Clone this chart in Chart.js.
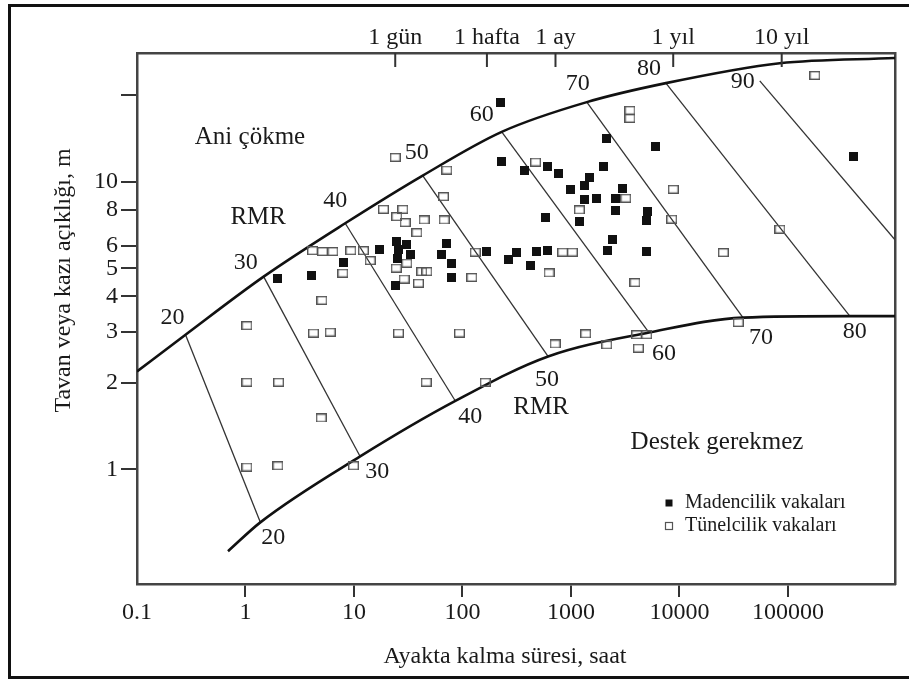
<!DOCTYPE html>
<html>
<head>
<meta charset="utf-8">
<script src="https://cdn.jsdelivr.net/npm/chart.js@4/dist/chart.umd.min.js"></script>
<style>
  html, body { margin: 0; padding: 0; background: #fff; overflow: hidden; }
  #wrap { position: relative; width: 909px; height: 681px; }
  #frame { position: absolute; left: 8px; top: 4px; width: 1000px; height: 675px; border: 3px solid #111; box-sizing: border-box; }
  #chart { position: absolute; left: 0; top: 0; }
</style>
</head>
<body>
<div id="wrap">
  <div id="frame"></div>
  <canvas id="chart" width="909" height="681"></canvas>
</div>
<script>
// axis ticks
const X_TICKS = [0.1, 1, 10, 100, 1000, 10000, 100000];
const X_TICK_LABELS = ['0.1', '1', '10', '100', '1000', '10000', '100000'];
const TOP_TICKS = [24, 168, 720, 8760, 87600];
const TOP_TICK_LABELS = ['1 gün', '1 hafta', '1 ay', '1 yıl', '10 yıl'];
const Y_TICKS = [1, 2, 3, 4, 5, 6, 8, 10, 20];
const Y_TICK_LABELS = ['1', '2', '3', '4', '5', '6', '8', '10', ''];

// boundary curves
const UPPER_X = [0.1, 0.28, 1.47, 8.3, 43, 230, 1400, 7500, 84000, 970000];
const UPPER_Y = [2.19, 2.94, 4.68, 7.17, 10.5, 14.9, 18.9, 22.0, 25.8, 26.9];
const LOWER_X = [0.69, 1.37, 11.4, 86, 615, 5240, 38500, 372000, 970000];
const LOWER_Y = [0.52, 0.655, 1.11, 1.73, 2.47, 2.99, 3.37, 3.41, 3.41];

// RMR lines
const RMR_VALUES = ['20', '30', '40', '50', '60', '70', '80', '90'];
const RMR_TOP_X = [0.28, 1.47, 8.3, 43, 230, 1400, 7500, 55000];
const RMR_TOP_Y = [2.94, 4.68, 7.17, 10.5, 14.9, 18.9, 22.0, 22.4];
const RMR_BOTTOM_X = [1.37, 11.4, 86, 615, 5240, 38500, 372000, 970000];
const RMR_BOTTOM_Y = [0.655, 1.11, 1.73, 2.47, 2.99, 3.37, 3.41, 6.28];
const RMR_BOTTOM_LABELS = ['20', '30', '40', '50', '60', '70', '80', ''];

// case histories
const MINING_LABEL = 'Madencilik vakaları';
const MINING_X = [225, 230, 370, 603, 766, 586, 17.1, 24.8, 30.3, 25.7, 33, 25.2, 70.6, 63.5, 79.8,
  79.8, 8.0, 1.97, 4.09, 24, 167, 265, 317, 420, 484, 606, 1990, 2140, 5960, 1480,
  1330, 996, 1330, 1730, 2975, 2600, 2600, 1210, 5060, 4990, 2430, 2160, 4920, 405000];
const MINING_Y = [18.9, 11.8, 10.95, 11.27, 10.7, 7.52, 5.8, 6.19, 6.03, 5.83, 5.57, 5.42, 6.08, 5.57, 5.18,
  4.65, 5.25, 4.62, 4.71, 4.37, 5.72, 5.35, 5.66, 5.13, 5.74, 5.75, 11.27, 14.1, 13.2, 10.36,
  9.67, 9.41, 8.64, 8.76, 9.49, 8.76, 7.93, 7.27, 7.87, 7.32, 6.28, 5.75, 5.72, 12.2];

const TUNNEL_LABEL = 'Tünelcilik vakaları';
const TUNNEL_X = [24, 71.8, 472, 66.8, 18.7, 28.2, 24.8, 29.6, 44.3, 67.8, 38, 4.15, 5.13, 6.39, 9.36,
  12.2, 14.1, 131, 24.5, 30.7, 42.2, 47, 29, 39.3, 122, 7.9, 5.06, 1.03, 4.24, 6.04,
  25.7, 93.8, 1.03, 2.02, 46.3, 162, 628, 4.99, 1.03, 1.99, 9.9, 3500, 3500, 8770, 3200,
  1195, 8485, 84300, 25400, 177000, 840, 1030, 3890, 714, 1368, 2138, 4036, 4990, 4178, 34800];
const TUNNEL_Y = [12.15, 10.98, 11.7, 8.87, 8.02, 8.02, 7.56, 7.21, 7.36, 7.36, 6.65, 5.76, 5.72, 5.72, 5.76,
  5.76, 5.32, 5.69, 5.01, 5.21, 4.87, 4.87, 4.59, 4.44, 4.65, 4.81, 3.87, 3.16, 2.98, 3.0,
  2.98, 2.98, 2.01, 2.01, 2.01, 2.01, 4.82, 1.51, 1.02, 1.03, 1.03, 17.7, 16.6, 9.41, 8.76,
  7.98, 7.41, 6.84, 5.67, 23.4, 5.69, 5.69, 4.46, 2.73, 2.96, 2.71, 2.94, 2.94, 2.64, 3.24];

// region notes, placed in data space
const NOTES = [
  { text: 'Ani çökme', x: 1.1, y: 14.3 },
  { text: 'RMR', x: 1.31, y: 7.54 },
  { text: 'RMR', x: 530, y: 1.64 },
  { text: 'Destek gerekmez', x: 22200, y: 1.24 }
];

const FONT = '"Liberation Serif", "Times New Roman", serif';
const X_MIN = 0.1, X_MAX = 970000, Y_MIN = 0.4, Y_MAX = 28;

// pixel nudges for the RMR numbers at the line ends
const TOP_SHIFT = [[-13, -17], [-18, -14], [-10, -23], [-6, -23], [-20, -17], [-9, -18], [-17, -14], [-17, 1]];
const BOTTOM_SHIFT = [[13, 15], [17, 15], [15, 16], [-1, 23], [15, 21], [18, 20], [5, 16], [0, 0]];

function zip(xs, ys) {
  return xs.map((x, i) => ({ x: x, y: ys[i] }));
}

function squareMarker(filled) {
  const c = document.createElement('canvas');
  const g = c.getContext('2d');
  if (filled) {
    c.width = 9; c.height = 9;
    g.fillStyle = '#111';
    g.fillRect(0, 0, 9, 9);
  } else {
    c.width = 11; c.height = 9;
    g.strokeStyle = '#555';
    g.lineWidth = 1.4;
    g.strokeRect(0.7, 0.7, 9.6, 7.6);
  }
  return c;
}

const filledMarker = squareMarker(true);
const openMarker = squareMarker(false);

const rmrLineSets = RMR_VALUES.map((v, i) => ({
  type: 'line',
  label: 'RMR ' + v,
  data: [{ x: RMR_TOP_X[i], y: RMR_TOP_Y[i] }, { x: RMR_BOTTOM_X[i], y: RMR_BOTTOM_Y[i] }],
  borderColor: '#333',
  borderWidth: 1.3,
  pointRadius: 0,
  fill: false
}));

const extrasPlugin = {
  id: 'extras',
  afterDraw(chart) {
    const { ctx, chartArea, scales } = chart;
    const sx = scales.x, sy = scales.y, top = scales.x2;
    ctx.save();

    // inward ticks on the top (time) axis
    ctx.strokeStyle = '#333';
    ctx.lineWidth = 2;
    top.ticks.forEach(t => {
      const px = top.getPixelForValue(t.value);
      ctx.beginPath();
      ctx.moveTo(px, chartArea.top);
      ctx.lineTo(px, chartArea.top + 14);
      ctx.stroke();
    });

    ctx.fillStyle = '#1a1a1a';
    ctx.textAlign = 'center';
    ctx.textBaseline = 'middle';

    // RMR numbers
    ctx.font = '24px ' + FONT;
    RMR_VALUES.forEach((v, i) => {
      const px = sx.getPixelForValue(RMR_TOP_X[i]);
      const py = sy.getPixelForValue(RMR_TOP_Y[i]);
      ctx.fillText(v, px + TOP_SHIFT[i][0], py + TOP_SHIFT[i][1]);
      if (RMR_BOTTOM_LABELS[i]) {
        const bx = sx.getPixelForValue(RMR_BOTTOM_X[i]);
        const by = sy.getPixelForValue(RMR_BOTTOM_Y[i]);
        ctx.fillText(RMR_BOTTOM_LABELS[i], bx + BOTTOM_SHIFT[i][0], by + BOTTOM_SHIFT[i][1]);
      }
    });

    // region notes
    ctx.font = '25px ' + FONT;
    NOTES.forEach(n => {
      ctx.fillText(n.text, sx.getPixelForValue(n.x), sy.getPixelForValue(n.y));
    });

    // axis titles
    ctx.font = '24px ' + FONT;
    const midX = (chartArea.left + chartArea.right) / 2;
    const midY = (chartArea.top + chartArea.bottom) / 2;
    ctx.fillText('Ayakta kalma süresi, saat', midX - 11, chartArea.bottom + 73);
    ctx.save();
    ctx.translate(chartArea.left - 73, midY - 38);
    ctx.rotate(-Math.PI / 2);
    ctx.fillText('Tavan veya kazı açıklığı, m', 0, 0);
    ctx.restore();

    // legend
    const lx = chartArea.right - 226;
    const rows = [chartArea.bottom - 81, chartArea.bottom - 58];
    ctx.fillStyle = '#111';
    ctx.fillRect(lx - 3.5, rows[0] - 3.5, 7, 7);
    ctx.strokeStyle = '#555';
    ctx.lineWidth = 1.2;
    ctx.strokeRect(lx - 3.5, rows[1] - 3.5, 7, 7);
    ctx.fillStyle = '#1a1a1a';
    ctx.textAlign = 'left';
    ctx.font = '20px ' + FONT;
    ctx.fillText(MINING_LABEL, lx + 16, rows[0]);
    ctx.fillText(TUNNEL_LABEL, lx + 16, rows[1]);

    ctx.restore();
  }
};

new Chart(document.getElementById('chart'), {
  data: {
    datasets: [
      {
        type: 'scatter',
        label: MINING_LABEL,
        data: zip(MINING_X, MINING_Y),
        pointStyle: filledMarker,
        pointRadius: 5
      },
      {
        type: 'scatter',
        label: TUNNEL_LABEL,
        data: zip(TUNNEL_X, TUNNEL_Y),
        pointStyle: openMarker,
        pointRadius: 5
      },
      {
        type: 'line',
        label: 'upper',
        data: zip(UPPER_X, UPPER_Y),
        borderColor: '#111',
        borderWidth: 2.6,
        pointRadius: 0,
        cubicInterpolationMode: 'monotone',
        fill: false
      },
      {
        type: 'line',
        label: 'lower',
        data: zip(LOWER_X, LOWER_Y),
        borderColor: '#111',
        borderWidth: 2.6,
        pointRadius: 0,
        cubicInterpolationMode: 'monotone',
        fill: false
      }
    ].concat(rmrLineSets)
  },
  options: {
    responsive: false,
    animation: false,
    devicePixelRatio: 1,
    layout: { padding: 0 },
    plugins: {
      legend: { display: false },
      tooltip: { enabled: false }
    },
    scales: {
      x: {
        type: 'logarithmic',
        position: 'bottom',
        min: X_MIN,
        max: X_MAX,
        afterBuildTicks: s => { s.ticks = X_TICKS.map(v => ({ value: v })); },
        afterFit: s => { s.height = 97; },
        border: { display: true, color: '#444', width: 2.5 },
        grid: {
          drawOnChartArea: false,
          drawTicks: true,
          tickLength: 13,
          lineWidth: 2,
          color: c => (c.tick && c.tick.value === 0.1) ? 'rgba(0,0,0,0)' : '#333'
        },
        ticks: {
          autoSkip: false,
          maxRotation: 0,
          padding: 1,
          color: '#1a1a1a',
          font: { family: FONT, size: 24 },
          callback: v => X_TICK_LABELS[X_TICKS.indexOf(v)]
        }
      },
      x2: {
        type: 'logarithmic',
        position: 'top',
        min: X_MIN,
        max: X_MAX,
        afterBuildTicks: s => { s.ticks = TOP_TICKS.map(v => ({ value: v })); },
        afterFit: s => { s.height = 53; },
        border: { display: true, color: '#444', width: 2.5 },
        grid: { drawOnChartArea: false, drawTicks: false },
        ticks: {
          autoSkip: false,
          maxRotation: 0,
          padding: 1,
          color: '#1a1a1a',
          font: { family: FONT, size: 24 },
          callback: v => TOP_TICK_LABELS[TOP_TICKS.indexOf(v)]
        }
      },
      y: {
        type: 'logarithmic',
        position: 'left',
        min: Y_MIN,
        max: Y_MAX,
        afterBuildTicks: s => { s.ticks = Y_TICKS.map(v => ({ value: v })); },
        afterFit: s => { s.width = 137; },
        border: { display: true, color: '#444', width: 2.5 },
        grid: {
          drawOnChartArea: false,
          drawTicks: true,
          tickLength: 16,
          lineWidth: 2,
          color: '#333'
        },
        ticks: {
          autoSkip: false,
          padding: 3,
          color: '#1a1a1a',
          font: { family: FONT, size: 24 },
          callback: v => Y_TICK_LABELS[Y_TICKS.indexOf(v)]
        }
      },
      y2: {
        type: 'logarithmic',
        position: 'right',
        min: Y_MIN,
        max: Y_MAX,
        afterFit: s => { s.width = 14; },
        border: { display: true, color: '#444', width: 2.5 },
        grid: { drawOnChartArea: false, drawTicks: false },
        ticks: { display: false }
      }
    }
  },
  plugins: [extrasPlugin]
});
</script>
</body>
</html>
